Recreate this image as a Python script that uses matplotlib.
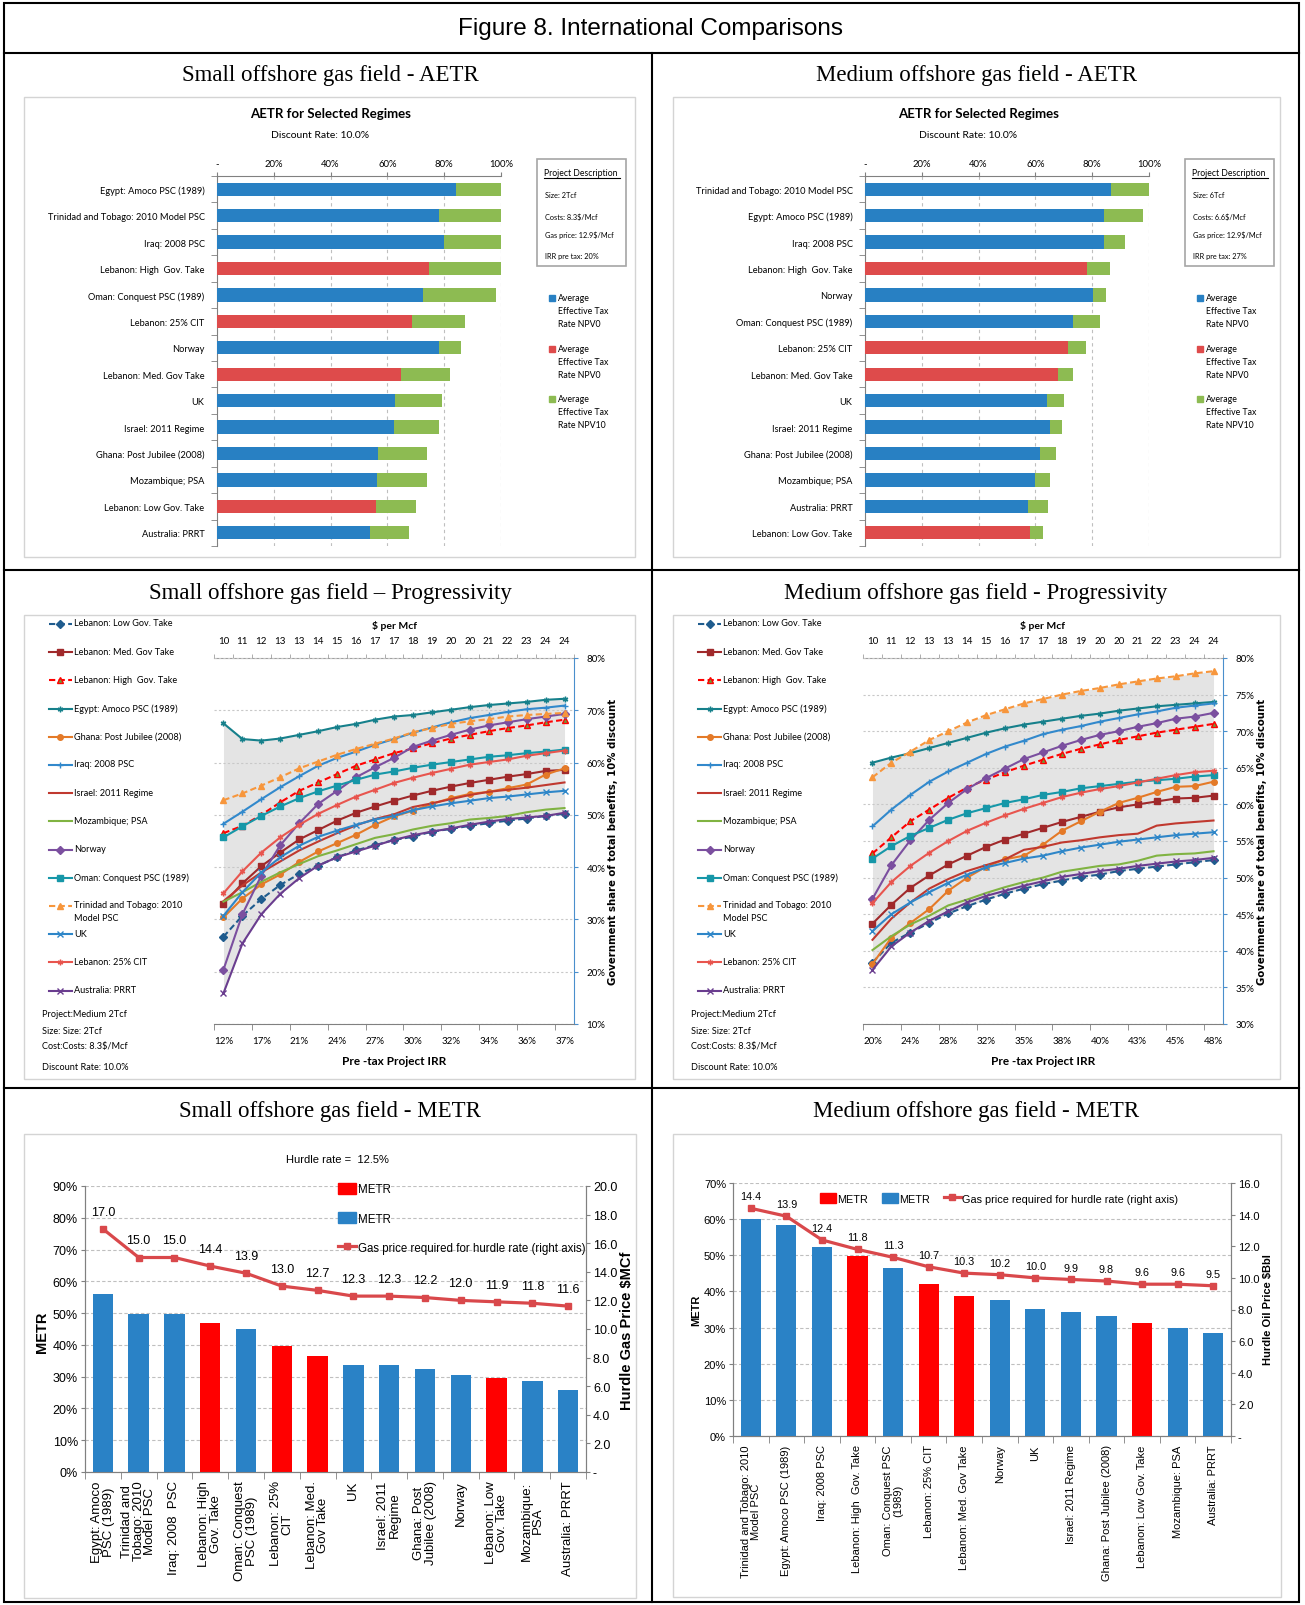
import numpy as np
import matplotlib.pyplot as plt
from matplotlib.patches import Rectangle, Patch
from matplotlib.lines import Line2D

plt.rcParams['font.family'] = ['Lato', 'DejaVu Sans']

# ---------------- data ----------------
aetr_small_names = ['Egypt: Amoco PSC (1989)', 'Trinidad and Tobago: 2010 Model PSC', 'Iraq: 2008 PSC',
                    'Lebanon: High  Gov. Take', 'Oman: Conquest PSC (1989)', 'Lebanon: 25% CIT', 'Norway',
                    'Lebanon: Med. Gov Take', 'UK', 'Israel: 2011 Regime', 'Ghana: Post Jubilee (2008)',
                    'Mozambique; PSA', 'Lebanon: Low Gov. Take', 'Australia: PRRT']
aetr_small_npv0 = [84.1, 78.0, 80.0, 74.8, 72.7, 68.8, 78.0, 64.9, 62.8, 62.2, 56.6, 56.4, 56.1, 53.8]
aetr_small_npv10 = [100.0, 100.0, 100.0, 99.9, 98.3, 87.4, 85.9, 82.1, 79.4, 78.2, 74.1, 74.1, 70.1, 67.7]
aetr_small_desc = ['Size: 2Tcf', 'Costs: 8.3$/Mcf', 'Gas price: 12.9$/Mcf', 'IRR pre tax: 20%']

aetr_medium_names = ['Trinidad and Tobago: 2010 Model PSC', 'Egypt: Amoco PSC (1989)', 'Iraq: 2008 PSC',
                     'Lebanon: High  Gov. Take', 'Norway', 'Oman: Conquest PSC (1989)', 'Lebanon: 25% CIT',
                     'Lebanon: Med. Gov Take', 'UK', 'Israel: 2011 Regime', 'Ghana: Post Jubilee (2008)',
                     'Mozambique; PSA', 'Australia: PRRT', 'Lebanon: Low Gov. Take']
aetr_medium_npv0 = [86.6, 84.1, 84.1, 78.1, 80.2, 73.1, 71.6, 67.8, 64.1, 65.0, 61.7, 59.8, 57.4, 58.1]
aetr_medium_npv10 = [100.0, 97.9, 91.4, 86.4, 84.8, 82.6, 77.9, 73.4, 69.9, 69.3, 67.2, 65.1, 64.4, 62.7]
aetr_medium_desc = ['Size: 6Tcf', 'Costs: 6.6$/Mcf', 'Gas price: 12.9$/Mcf', 'IRR pre tax: 27%']

price_labels = ['10', '11', '12', '13', '13', '14', '15', '16', '17', '17', '18', '19', '20', '20',
                '21', '22', '23', '24', '24']
irr_small = ['12%', '17%', '21%', '24%', '27%', '30%', '32%', '34%', '36%', '37%']
irr_medium = ['20%', '24%', '28%', '32%', '35%', '38%', '40%', '43%', '45%', '48%']

prog_labels = ['Lebanon: Low Gov. Take', 'Lebanon: Med. Gov Take', 'Lebanon: High  Gov. Take',
               'Egypt: Amoco PSC (1989)', 'Ghana: Post Jubilee (2008)', 'Iraq: 2008 PSC',
               'Israel: 2011 Regime', 'Mozambique; PSA', 'Norway', 'Oman: Conquest PSC (1989)',
               'Trinidad and Tobago: 2010\nModel PSC', 'UK', 'Lebanon: 25% CIT', 'Australia: PRRT']

# small field, government share (%) per price step
s_leb_low = [26.7, 30.7, 33.9, 36.6, 38.7, 40.3, 41.9, 43.2, 44.2, 45.2, 45.8, 46.8, 47.3, 47.9, 48.4, 48.9, 49.3, 49.8, 50.2]
s_leb_med = [33.0, 36.9, 40.2, 42.8, 45.3, 47.1, 48.9, 50.4, 51.6, 52.7, 53.7, 54.6, 55.4, 56.1, 56.7, 57.3, 57.8, 58.4, 58.6]
s_leb_high = [46.5, 47.9, 50.0, 52.4, 54.6, 56.2, 57.8, 59.4, 60.6, 61.8, 62.7, 63.7, 64.6, 65.3, 66.0, 66.6, 67.1, 67.7, 68.2]
s_egypt = [67.5, 64.5, 64.2, 64.6, 65.3, 66.0, 66.8, 67.4, 68.2, 68.8, 69.1, 69.6, 70.1, 70.6, 71.0, 71.3, 71.6, 72.0, 72.2]
s_ghana = [30.4, 34.0, 36.7, 38.6, 41.0, 43.0, 44.6, 46.2, 48.1, 49.7, 50.8, 52.1, 53.2, 54.0, 54.4, 55.1, 55.8, 57.7, 58.9]
s_iraq = [48.3, 50.6, 53.0, 55.3, 57.4, 59.4, 60.9, 62.1, 63.4, 64.5, 65.7, 66.7, 67.7, 68.5, 69.1, 69.7, 70.2, 70.5, 70.9]
s_israel = [33.5, 36.5, 39.0, 41.1, 43.2, 44.9, 46.5, 48.0, 49.2, 50.1, 51.5, 52.2, 53.0, 53.8, 54.4, 54.8, 55.2, 55.7, 56.2]
s_mozambique = [33.4, 35.2, 37.2, 39.0, 40.6, 42.1, 43.2, 44.4, 45.6, 46.3, 47.2, 47.9, 48.4, 49.1, 49.4, 49.8, 50.5, 51.0, 51.3]
s_norway = [20.4, 31.0, 38.4, 44.2, 48.4, 52.1, 54.6, 57.2, 59.1, 60.9, 63.0, 64.2, 65.3, 66.3, 67.1, 67.7, 68.3, 68.8, 69.3]
s_oman = [45.7, 47.8, 49.8, 51.6, 53.2, 54.5, 55.6, 56.7, 57.7, 58.3, 59.0, 59.6, 60.1, 60.6, 61.1, 61.4, 61.8, 62.1, 62.5]
s_trinidad = [52.8, 54.1, 55.6, 57.2, 58.9, 60.2, 61.5, 62.6, 63.6, 64.6, 65.8, 66.6, 67.4, 67.9, 68.3, 68.8, 69.1, 69.3, 69.5]
s_uk = [30.7, 35.2, 39.0, 41.9, 44.1, 45.8, 47.0, 48.1, 49.1, 49.8, 50.9, 51.6, 52.2, 52.7, 53.2, 53.5, 53.9, 54.3, 54.6]
s_leb_cit = [35.0, 39.2, 42.8, 45.7, 48.1, 50.2, 51.9, 53.5, 54.8, 56.1, 57.1, 58.0, 58.8, 59.6, 60.1, 60.6, 61.3, 61.8, 62.3]
s_australia = [15.9, 25.4, 31.0, 34.9, 37.9, 40.3, 41.9, 43.0, 44.1, 45.2, 46.1, 46.8, 47.4, 48.1, 48.7, 49.2, 49.5, 49.8, 50.4]

# medium field
m_leb_low = [38.4, 41.1, 42.5, 43.8, 45.1, 46.1, 47.0, 47.8, 48.5, 49.1, 49.6, 50.1, 50.4, 50.9, 51.2, 51.5, 51.8, 52.1, 52.4]
m_leb_med = [43.7, 46.3, 48.6, 50.3, 51.8, 53.0, 54.2, 55.2, 56.0, 56.8, 57.6, 58.3, 59.0, 59.6, 60.0, 60.4, 60.8, 60.9, 61.2]
m_leb_high = [53.3, 55.5, 57.7, 59.3, 60.9, 62.3, 63.4, 64.4, 65.3, 66.1, 66.9, 67.6, 68.2, 68.8, 69.3, 69.8, 70.2, 70.6, 71.0]
m_egypt = [65.7, 66.4, 67.0, 67.7, 68.4, 69.1, 69.8, 70.4, 70.9, 71.3, 71.7, 72.1, 72.4, 72.8, 73.1, 73.4, 73.6, 73.8, 74.0]
m_ghana = [38.2, 41.8, 43.8, 45.7, 48.2, 50.0, 51.5, 52.5, 53.0, 54.5, 56.4, 57.7, 59.0, 60.2, 60.9, 61.7, 62.4, 62.5, 63.1]
m_iraq = [57.0, 59.3, 61.3, 63.1, 64.5, 65.7, 66.9, 67.9, 68.7, 69.6, 70.2, 70.7, 71.3, 71.8, 72.3, 72.7, 73.2, 73.5, 73.8]
m_israel = [41.5, 44.4, 46.6, 48.5, 49.8, 50.9, 51.7, 52.5, 53.8, 54.2, 54.8, 55.1, 55.5, 55.8, 56.0, 57.1, 57.4, 57.6, 57.8]
m_mozambique = [40.1, 42.0, 43.6, 44.8, 46.2, 47.0, 47.9, 48.7, 49.4, 50.0, 50.8, 51.2, 51.6, 51.8, 52.3, 53.0, 53.2, 53.3, 53.6]
m_norway = [47.1, 51.7, 55.1, 57.9, 60.2, 62.1, 63.6, 64.9, 66.2, 67.1, 68.0, 68.8, 69.5, 70.0, 70.6, 71.1, 71.7, 72.0, 72.5]
m_oman = [52.6, 54.3, 55.7, 56.8, 57.9, 58.8, 59.5, 60.2, 60.7, 61.3, 61.7, 62.2, 62.5, 62.8, 63.1, 63.3, 63.5, 63.8, 64.0]
m_trinidad = [63.7, 65.7, 67.2, 68.8, 70.0, 71.2, 72.2, 73.0, 73.8, 74.4, 75.0, 75.5, 75.9, 76.4, 76.8, 77.2, 77.5, 77.9, 78.2]
m_uk = [42.7, 45.0, 46.6, 48.0, 49.3, 50.4, 51.4, 52.0, 52.6, 53.0, 53.6, 54.1, 54.5, 54.9, 55.2, 55.5, 55.8, 56.0, 56.2]
m_leb_cit = [46.5, 49.4, 51.6, 53.4, 55.0, 56.4, 57.5, 58.5, 59.4, 60.2, 61.0, 61.6, 62.1, 62.5, 63.0, 63.5, 64.0, 64.4, 64.6]
m_australia = [37.4, 40.6, 42.5, 44.1, 45.4, 46.6, 47.5, 48.2, 48.9, 49.5, 50.1, 50.5, 50.9, 51.2, 51.6, 51.9, 52.2, 52.4, 52.7]

metr_small_names = ['Egypt: Amoco\nPSC (1989)', 'Trinidad and\nTobago: 2010\nModel PSC', 'Iraq: 2008  PSC',
                    'Lebanon: High\nGov. Take', 'Oman: Conquest\nPSC (1989)', 'Lebanon: 25%\nCIT',
                    'Lebanon: Med.\nGov Take', 'UK', 'Israel: 2011\nRegime', 'Ghana: Post\nJubilee (2008)',
                    'Norway', 'Lebanon: Low\nGov. Take', 'Mozambique:\nPSA', 'Australia: PRRT']
metr_small = [55.9, 49.8, 49.8, 47.0, 44.9, 39.5, 36.4, 33.6, 33.6, 32.3, 30.6, 29.6, 28.5, 25.7]
hurdle_small = [17.0, 15.0, 15.0, 14.4, 13.9, 13.0, 12.7, 12.3, 12.3, 12.2, 12.0, 11.9, 11.8, 11.6]

metr_medium_names = ['Trinidad and Tobago: 2010\nModel PSC', 'Egypt: Amoco PSC (1989)', 'Iraq: 2008 PSC',
                     'Lebanon: High  Gov. Take', 'Oman: Conquest PSC\n(1989)', 'Lebanon: 25% CIT',
                     'Lebanon: Med. Gov Take', 'Norway', 'UK', 'Israel: 2011 Regime',
                     'Ghana: Post Jubilee (2008)', 'Lebanon: Low Gov. Take', 'Mozambique: PSA', 'Australia: PRRT']
metr_medium = [60.1, 58.5, 52.4, 49.7, 46.4, 42.0, 38.7, 37.6, 35.2, 34.4, 33.1, 31.2, 29.8, 28.6]
hurdle_medium = [14.4, 13.9, 12.4, 11.8, 11.3, 10.7, 10.3, 10.2, 10.0, 9.9, 9.8, 9.6, 9.6, 9.5]

# ---------------- styles ----------------
BLUE = '#2880C3'
RED = '#DE4B4B'
GREEN = '#8DBB52'
METR_RED = '#FF0000'
METR_BLUE = '#2A82C6'
LINE_RED = '#D9484B'
SERIF = 'Liberation Serif'
ARIAL = 'Liberation Sans'
STAR = (6, 2, 0)

prog_styles = [
    ('#1F5C8E', '--', 'D', None),
    ('#A0292B', '-', 's', None),
    ('#FF0000', '--', '^', '#6E9B3A'),
    ('#16808B', '-', STAR, None),
    ('#E47A28', '-', 'o', None),
    ('#3289CC', '-', '+', None),
    ('#C0392F', '-', None, None),
    ('#80B342', '-', None, None),
    ('#7B4F9F', '-', 'D', None),
    ('#1697A8', '-', 's', None),
    ('#F7963C', '--', '^', None),
    ('#2E86C8', '-', 'x', None),
    ('#E8554E', '-', STAR, None),
    ('#6A3D8F', '-', 'x', None),
]

W, H = 1305, 1606
fig = plt.figure(figsize=(W / 100, H / 100), dpi=100)


def fx(x):
    return x / W


def fy(y):
    return 1 - y / H


def box(x0, y0, x1, y1):
    return [fx(x0), fy(y1), (x1 - x0) / W, (y1 - y0) / H]


def seg(x0, y0, x1, y1, **kw):
    fig.add_artist(Line2D([fx(x0), fx(x1)], [fy(y0), fy(y1)], transform=fig.transFigure, **kw))


def frame(x0, y0, x1, y1, **kw):
    fig.add_artist(Rectangle((fx(x0), fy(y1)), (x1 - x0) / W, (y1 - y0) / H,
                             transform=fig.transFigure, fill=False, **kw))


def ls_of(ls):
    return (0, (3, 1.6)) if ls == '--' else '-'


# ---------------- table ----------------
frame(4, 4, 1299, 1603, ec='black', lw=1.5)
seg(4, 54, 1299, 54, color='black', lw=1.5)
seg(4, 571, 1299, 571, color='black', lw=1.5)
seg(4, 1089, 1299, 1089, color='black', lw=1.5)
seg(652, 54, 652, 1603, color='black', lw=1.5)
fig.text(fx(651), fy(29), 'Figure 8. International Comparisons', ha='center', va='center',
         fontsize=17.5, family=ARIAL)

heads = [(330, 76, 'Small offshore gas field - AETR'), (976, 76, 'Medium offshore gas field - AETR'),
         (330, 594, 'Small offshore gas field \u2013 Progressivity'),
         (976, 594, 'Medium offshore gas field - Progressivity'),
         (330, 1112, 'Small offshore gas field - METR'), (976, 1112, 'Medium offshore gas field - METR')]
for hx, hy, ht in heads:
    fig.text(fx(hx), fy(hy), ht, ha='center', va='center', fontsize=16.5, family=SERIF)

for x0, y0, x1, y1 in [(24, 98, 635, 558), (673, 98, 1280, 558), (24, 616, 635, 1080),
                       (673, 616, 1280, 1080), (24, 1135, 636, 1599), (673, 1135, 1281, 1598)]:
    frame(x0, y0, x1, y1, ec='#D4D4D4', lw=1)


# ---------------- AETR ----------------
def aetr_panel(dx, names, npv0, npv10, desc):
    ax = fig.add_axes(box(217 + dx, 177, 501 + dx, 547))
    pos = np.arange(len(names))
    base_col = [RED if n.startswith('Lebanon') else BLUE for n in names]
    ax.barh(pos, npv0, height=0.5, color=base_col, zorder=3)
    ax.barh(pos, np.subtract(npv10, npv0), left=npv0, height=0.5, color=GREEN, zorder=3)
    ax.set_xlim(0, 100)
    ax.set_ylim(len(names) - 0.5, -0.5)
    ax.xaxis.tick_top()
    ax.set_xticks(range(0, 101, 20), labels=['-'] + [f'{v}%' for v in range(20, 101, 20)])
    ax.tick_params(axis='x', length=3, pad=3, color='#808080', labelsize=6.8)
    ax.set_yticks(pos, labels=names)
    ax.set_yticks(np.arange(-0.5, len(names)), minor=True)
    ax.tick_params(axis='y', which='major', length=0, pad=9, labelsize=6.7)
    ax.tick_params(axis='y', which='minor', length=4, color='#808080')
    ax.grid(axis='x', ls=(0, (3, 3)), color='#BFBFBF', lw=0.8, zorder=0)
    ax.spines[['right', 'bottom']].set_visible(False)
    ax.spines[['left', 'top']].set_color('#808080')

    fig.text(fx(331 + dx), fy(114), 'AETR for Selected Regimes', ha='center', va='center',
             fontsize=9.5, fontweight='bold')
    fig.text(fx(320 + dx), fy(135), 'Discount Rate: 10.0%', ha='center', va='center', fontsize=7.5)

    frame(537 + dx, 160, 626 + dx, 267, ec='#A6A6A6', lw=1.2)
    fig.text(fx(544 + dx), fy(174), 'Project Description', ha='left', va='center', fontsize=6.2)
    seg(544 + dx, 179, 620 + dx, 179, color='black', lw=0.8)
    for dy, t in zip([196, 217, 235, 256], desc):
        fig.text(fx(545 + dx), fy(dy), t, ha='left', va='center', fontsize=5.3)

    for ly, col, lab in [(299, BLUE, 'NPV0'), (350, RED, 'NPV0'), (400, GREEN, 'NPV10')]:
        fig.add_artist(Rectangle((fx(549 + dx), fy(ly + 3)), 6 / W, 6 / H,
                                 transform=fig.transFigure, color=col))
        fig.text(fx(558 + dx), fy(ly - 5), f'Average\nEffective Tax\nRate {lab}', ha='left', va='top',
                 fontsize=6.3, linespacing=1.6)


aetr_panel(0, aetr_small_names, aetr_small_npv0, aetr_small_npv10, aetr_small_desc)
aetr_panel(648, aetr_medium_names, aetr_medium_npv0, aetr_medium_npv10, aetr_medium_desc)


# ---------------- Progressivity ----------------
def prog_panel(dx, series, ymin, ystep, irr_labels):
    ax = fig.add_axes(box(214 + dx, 659, 574 + dx, 1025))
    x = np.arange(len(price_labels))
    arr = np.array(series)
    ax.fill_between(x, arr.min(axis=0), arr.max(axis=0), color='#E4E4E4', lw=0, zorder=1)
    for vals, (col, ls, mk, mfc) in zip(series, prog_styles):
        ax.plot(x, vals, color=col, ls=ls_of(ls), lw=1.5, marker=mk, ms=4, mfc=mfc or col,
                mec=col, mew=1, zorder=3)
    ax.set_xlim(-0.5, len(x) - 0.5)
    ax.set_ylim(ymin, 80)
    ax.yaxis.tick_right()
    yt = np.arange(ymin, 80.1, ystep)
    ax.set_yticks(yt, labels=[f'{v:.0f}%' for v in yt])
    ax.tick_params(axis='y', length=3, pad=6, labelsize=7, color='#4A8FCC')
    ax.grid(axis='y', ls=(0, (2, 2)), color='#C8C8C8', lw=0.8, zorder=0)
    ax.set_xticks(x[::2], labels=irr_labels)
    ax.set_xticks(np.arange(-0.5, len(x), 2), minor=True)
    ax.tick_params(axis='x', which='major', length=0, pad=9, labelsize=7)
    ax.tick_params(axis='x', which='minor', length=4, color='#808080')
    ax.spines[['left', 'top']].set_visible(False)
    ax.spines['right'].set_color('#4A8FCC')
    ax.spines['bottom'].set_color('#808080')

    sec = ax.secondary_xaxis('top')
    sec.set_xticks(x, labels=price_labels)
    sec.set_xticks(np.arange(-0.5, len(x)), minor=True)
    sec.tick_params(axis='x', which='major', length=0, pad=9, labelsize=7)
    sec.tick_params(axis='x', which='minor', length=3, color='#A0A0A0')
    sec.spines['top'].set_color('#A0A0A0')

    fig.text(fx(394 + dx), fy(626), '$ per Mcf', ha='center', va='center', fontsize=7.5, fontweight='bold')
    fig.text(fx(394 + dx), fy(1062), 'Pre -tax Project IRR', ha='center', va='center', fontsize=8.5,
             fontweight='bold')
    fig.text(fx(613 + dx), fy(842), 'Government share of total benefits, 10% discount', rotation=90,
             ha='center', va='center', fontsize=7.3, fontweight='bold', family='DejaVu Sans')

    for i, (lab, (col, ls, mk, mfc)) in enumerate(zip(prog_labels, prog_styles)):
        ly = 625 + 28.2 * i
        seg(48.6 + dx, ly, 72.4 + dx, ly, color=col, ls=ls_of(ls), lw=1.5)
        if mk is not None:
            fig.add_artist(Line2D([fx(60.5 + dx)], [fy(ly)], transform=fig.transFigure, marker=mk, ms=4,
                                  color=col, mfc=mfc or col, mec=col, mew=1))
        fig.text(fx(74.5 + dx), fy(ly - 5.5), lab, ha='left', va='top', fontsize=6.6, linespacing=1.55)

    for ny, t in zip([1015, 1031, 1046, 1068], ['Project:Medium 2Tcf', 'Size: Size: 2Tcf',
                                                'Cost:Costs: 8.3$/Mcf', 'Discount Rate: 10.0%']):
        fig.text(fx(41.5 + dx), fy(ny), t, ha='left', va='center', fontsize=6.6)


prog_panel(0, [s_leb_low, s_leb_med, s_leb_high, s_egypt, s_ghana, s_iraq, s_israel, s_mozambique,
               s_norway, s_oman, s_trinidad, s_uk, s_leb_cit, s_australia], 10, 10, irr_small)
prog_panel(649, [m_leb_low, m_leb_med, m_leb_high, m_egypt, m_ghana, m_iraq, m_israel, m_mozambique,
                 m_norway, m_oman, m_trinidad, m_uk, m_leb_cit, m_australia], 30, 5, irr_medium)


# ---------------- METR ----------------
def metr_panel(rect, names, metr, hurdle, ymax, rmax, tick_fs, lab_fs, lab_ls, val_fs, val_off):
    ax = fig.add_axes(box(*rect))
    x = np.arange(len(names))
    cols = [METR_RED if n.startswith('Lebanon') else METR_BLUE for n in names]
    ax.bar(x, metr, width=0.57, color=cols, zorder=3)
    ax.set_xlim(-0.5, len(names) - 0.5)
    ax.set_ylim(0, ymax)
    yt = np.arange(0, ymax + 1, 10)
    ax.set_yticks(yt, labels=[f'{v}%' for v in yt])
    ax.tick_params(axis='y', length=3, pad=2, labelsize=tick_fs, color='#808080', labelfontfamily=ARIAL)
    ax.grid(axis='y', ls=(0, (3, 2)), color='#BFBFBF', lw=0.8, zorder=0)
    ax.set_xticks(x, labels=names, rotation=90, ha='center', va='top', multialignment='center',
                  fontsize=lab_fs, linespacing=lab_ls, family=ARIAL)
    ax.set_xticks(np.arange(-0.5, len(names)), minor=True)
    ax.tick_params(axis='x', which='major', length=0, pad=6)
    ax.tick_params(axis='x', which='minor', length=5, color='#808080')
    ax.spines['top'].set_visible(False)
    ax.spines[['left', 'bottom', 'right']].set_color('#808080')

    ax2 = ax.twinx()
    ax2.plot(x, hurdle, color=LINE_RED, lw=2.3, marker='s', ms=4.5, zorder=4)
    ax2.set_ylim(0, rmax)
    rt = np.arange(0, rmax + 0.1, 2)
    ax2.set_yticks(rt, labels=['-'] + [f'{v:.1f}' for v in rt[1:]])
    ax2.tick_params(axis='y', length=3, pad=2, labelsize=tick_fs, color='#808080', labelfontfamily=ARIAL)
    ax2.spines['top'].set_visible(False)
    ax2.spines[['left', 'bottom', 'right']].set_color('#808080')
    for xi, v in zip(x, hurdle):
        ax2.annotate(f'{v:.1f}', (xi, v), xytext=(0, val_off), textcoords='offset points',
                     ha='center', va='bottom', fontsize=val_fs, family=ARIAL)
    return ax


handles = [Patch(color=METR_RED), Patch(color=METR_BLUE),
           Line2D([], [], color=LINE_RED, lw=2.3, marker='s', ms=4.5)]
leg_labels = ['METR', 'METR', 'Gas price required for hurdle rate (right axis)']

metr_panel((85, 1187, 586, 1473), metr_small_names, metr_small, hurdle_small, 90, 20,
           9, 9.5, 0.95, 9, 8)
fig.text(fx(337), fy(1160), 'Hurdle rate =  12.5%', ha='center', va='center', fontsize=8, family=ARIAL)
fig.text(fx(42), fy(1332), 'METR', rotation=90, ha='center', va='center', fontsize=10.5,
         fontweight='bold', family=ARIAL)
fig.text(fx(627), fy(1331), 'Hurdle Gas Price $MCf', rotation=90, ha='center', va='center', fontsize=10.5,
         fontweight='bold', family=ARIAL)
fig.legend(handles, leg_labels, loc='upper left', bbox_to_anchor=(fx(338), fy(1184)), frameon=False,
           prop={'family': ARIAL, 'size': 8.3}, handlelength=1.6, handleheight=1.1, handletextpad=0.1,
           labelspacing=1.45, borderpad=0, borderaxespad=0)

metr_panel((733, 1184, 1231, 1437), metr_medium_names, metr_medium, hurdle_medium, 70, 16,
           8, 8, 1.0, 7.8, 5)
fig.text(fx(696), fy(1310), 'METR', rotation=90, ha='center', va='center', fontsize=8,
         fontweight='bold', family=ARIAL)
fig.text(fx(1268), fy(1310), 'Hurdle Oil Price $Bbl', rotation=90, ha='center', va='center', fontsize=8,
         fontweight='bold', family=ARIAL)
fig.legend(handles, leg_labels, loc='upper left', bbox_to_anchor=(fx(820), fy(1194)), frameon=False,
           prop={'family': ARIAL, 'size': 7.8}, ncol=3, handlelength=1.5, handleheight=1.0,
           handletextpad=0.1, columnspacing=1.3, borderpad=0, borderaxespad=0)

fig.savefig('out.png', dpi=100)
